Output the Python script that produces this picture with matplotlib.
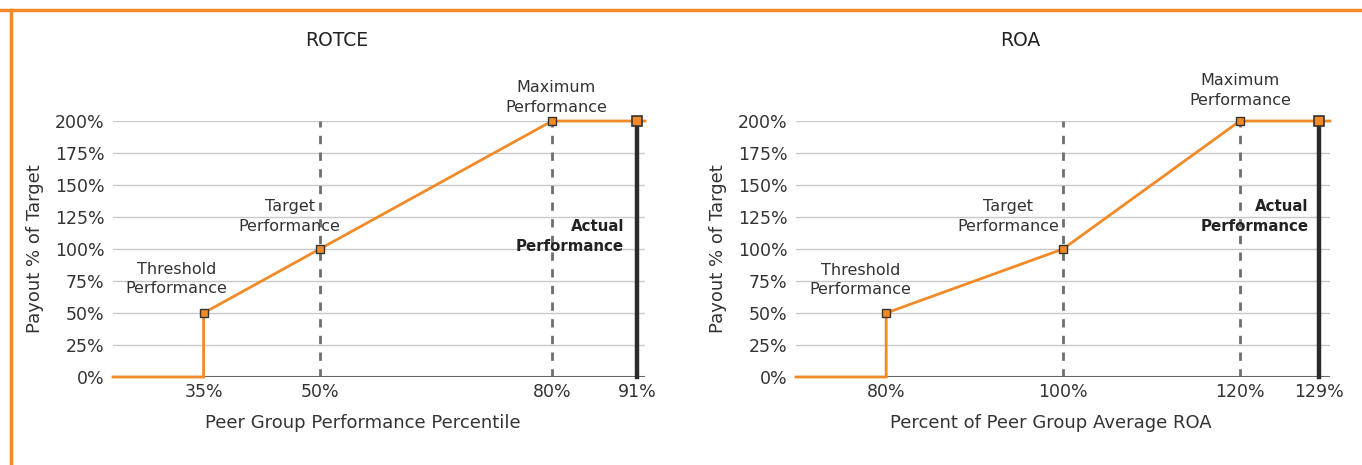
import matplotlib.pyplot as plt
from matplotlib.lines import Line2D

# --------- data --------- #
titles = ['ROTCE', 'ROA']
xlabels = ['Peer Group Performance Percentile', 'Percent of Peer Group Average ROA']
perf_points = [[35, 50, 80], [80, 100, 120]]      # threshold, target, maximum
payout_points = [50, 100, 200]
actual_perf = [91, 129]
actual_payout = 200
xlims = [(23.3, 92.0), (69.8, 130.2)]
yticks = [0, 25, 50, 75, 100, 125, 150, 175, 200]
point_names = ['Threshold\nPerformance', 'Target\nPerformance', 'Maximum\nPerformance']

ORANGE = '#F28A27'
DARK = '#2b2b2b'

plt.rcParams['font.family'] = ['DejaVu Sans']

fig = plt.figure(figsize=(13.62, 4.65), dpi=100)
axes = [fig.add_axes([113 / 1362, 1 - 377 / 465, 532 / 1362, 256 / 465]),
        fig.add_axes([796 / 1362, 1 - 377 / 465, 534 / 1362, 256 / 465])]

# label centres (data units) for the annotations, per panel
label_pos = [
    [(31.5, 76.5), (46.1, 125.4), (80.5, 218.4)],
    [(77.1, 75.8), (93.8, 125.4), (120.0, 223.8)],
]
actual_label = [(89.3, 109.8), (127.8, 125.4)]
title_x = [0.421, 0.42]
xlabel_x = [0.47, 0.4775]

for i, ax in enumerate(axes):
    x0, x1 = xlims[i]
    px = perf_points[i]

    for y in yticks[1:]:
        ax.axhline(y, color='#c9c9c9', lw=1, zorder=1)
    ax.axhline(0, color='#666666', lw=2.2, zorder=3)

    # dashed guides at target and maximum
    for xv in px[1:]:
        ax.plot([xv, xv], [0, 200], color='#6e6e6e', lw=2, ls=(0, (3, 3)), zorder=2)

    # payout curve
    xs = [x0, px[0], px[0], px[1], px[2], x1]
    ys = [0, 0, payout_points[0], payout_points[1], payout_points[2], payout_points[2]]
    ax.plot(xs, ys, color=ORANGE, lw=2, zorder=4, clip_on=False, solid_joinstyle='miter')

    # actual performance line
    ax.plot([actual_perf[i], actual_perf[i]], [0, actual_payout], color=DARK, lw=3.2, zorder=5,
            clip_on=False)

    ax.plot(px, payout_points, ls='none', marker='s', ms=5.5, mfc=ORANGE, mec='#333333',
            mew=1, zorder=6, clip_on=False)
    ax.plot([actual_perf[i]], [actual_payout], ls='none', marker='s', ms=6.5, mfc=ORANGE,
            mec='#333333', mew=1.2, zorder=7, clip_on=False)

    for name, (tx, ty) in zip(point_names, label_pos[i]):
        ax.text(tx, ty, name, ha='center', va='center', fontsize=11.5, color='#333333',
                linespacing=1.35)
    ax.text(actual_label[i][0], actual_label[i][1], 'Actual\nPerformance', ha='right',
            va='center', fontsize=10.8, fontweight='bold', color='#222222', linespacing=1.4,
            multialignment='right')

    ax.set_xlim(x0, x1)
    ax.set_ylim(0, 200)
    ax.set_yticks(yticks)
    ax.set_yticklabels([f'{v}%' for v in yticks])
    xt = px + [actual_perf[i]]
    ax.set_xticks(xt)
    ax.set_xticklabels([f'{v}%' for v in xt])
    ax.tick_params(length=0, labelsize=12.5, colors='#333333', pad=6)
    ax.tick_params(axis='x', pad=4)
    for s in ax.spines.values():
        s.set_visible(False)
    ax.set_title(titles[i], fontsize=13.5, color='#222222', pad=54, x=title_x[i])
    ax.set_xlabel(xlabels[i], fontsize=13, color='#333333', labelpad=10, x=xlabel_x[i])
    ax.set_ylabel('Payout % of Target', fontsize=13, color='#333333', labelpad=8)

# orange frame at top and left
fig.add_artist(Line2D([0, 1], [1 - 10 / 465] * 2, color=ORANGE, lw=2.5, transform=fig.transFigure))
fig.add_artist(Line2D([11 / 1362] * 2, [0, 1 - 10 / 465], color=ORANGE, lw=2.5,
                      transform=fig.transFigure))

fig.savefig('out.png', dpi=100)
